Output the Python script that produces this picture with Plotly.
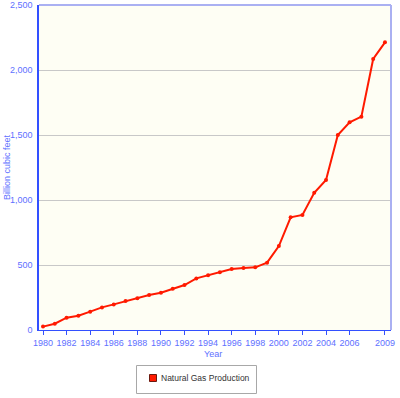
import plotly.graph_objects as go

years = list(range(1980, 2010))
production = [26, 48, 95, 110, 141, 174, 197, 223, 244, 269, 287, 318, 346, 397,
              421, 444, 469, 477, 482, 518, 646, 867, 885, 1056, 1154, 1500, 1598,
              1641, 2085, 2213]
x_ticks = [1980, 1982, 1984, 1986, 1988, 1990, 1992, 1994, 1996, 1998, 2000,
           2002, 2004, 2006, 2009]
y_ticks = [0, 500, 1000, 1500, 2000, 2500]
series_name = "Natural Gas Production"

axis_blue = "#3350FF"
label_blue = "#6070FF"
font = "Liberation Sans, Arial, sans-serif"

W, H = 400, 398
# plot area in pixels
L, R, T, B = 39, 391, 5, 330


def px(xp):
    return (xp - L) / (R - L)


def py(yp):
    return (B - yp) / (B - T)


fig = go.Figure()
fig.add_trace(go.Scatter(
    x=years, y=production, mode="lines+markers", name=series_name,
    line=dict(color="#FF1A00", width=2),
    marker=dict(color="#FF1A00", size=4),
    showlegend=False, hoverinfo="x+y"))

fig.update_layout(
    width=W, height=H,
    margin=dict(l=L, r=W - R, t=T, b=H - B, autoexpand=False),
    paper_bgcolor="white", plot_bgcolor="#FEFEF4",
    font=dict(family=font, size=9, color=label_blue),
    showlegend=False,
    xaxis=dict(range=[1979.66, 2009.51], tickvals=x_ticks,
               ticktext=[str(t) for t in x_ticks], tickangle=0,
               automargin=False,
               showgrid=False, zeroline=False,
               showline=True, linecolor=axis_blue, linewidth=1,
               ticks="outside", ticklen=4, tickcolor=axis_blue,
               tickfont=dict(color=label_blue, size=9)),
    yaxis=dict(range=[0, 2500], tickvals=y_ticks, tickformat=",",
               automargin=False,
               showgrid=True, gridcolor="#C8C8C8", gridwidth=1,
               zeroline=False,
               showline=True, linecolor=axis_blue, linewidth=1.5,
               ticks="outside", ticklen=3, tickcolor="rgba(0,0,0,0)",
               tickfont=dict(color=label_blue, size=9)),
)

fig.add_annotation(text="Year", xref="paper", yref="paper", x=px(213), y=py(354),
                   xanchor="center", yanchor="middle", showarrow=False,
                   font=dict(color=label_blue, size=9, family=font))
fig.add_annotation(text="Billion cubic feet", xref="paper", yref="paper",
                   x=px(6.5), y=0.5, xanchor="center", yanchor="middle",
                   textangle=-90, showarrow=False,
                   font=dict(color=label_blue, size=9, family=font))

# top / right frame
fig.add_shape(type="line", xref="paper", yref="paper", x0=0, x1=1, y0=1, y1=1,
              line=dict(color="#AAB0F2", width=2))
fig.add_shape(type="line", xref="paper", yref="paper", x0=1, x1=1, y0=0, y1=1,
              line=dict(color="#AAB0F2", width=2))

# legend box
fig.add_shape(type="rect", xref="paper", yref="paper",
              x0=px(136.5), x1=px(256.5), y0=py(393.5), y1=py(365.5),
              line=dict(color="#A8A8A8", width=1), fillcolor="white", layer="above")
fig.add_shape(type="rect", xref="paper", yref="paper",
              x0=px(149.5), x1=px(156.5), y0=py(381.5), y1=py(374.5),
              line=dict(color="#6A1A10", width=1), fillcolor="#FF1A00", layer="above")
fig.add_annotation(text=series_name, xref="paper", yref="paper",
                   x=px(159), y=py(378), xanchor="left", yanchor="middle",
                   showarrow=False,
                   font=dict(color="#333333", size=8.5, family=font))

fig.write_html("out.html", config={"displayModeBar": False},
               post_script="document.body.style.margin='0';"
                           "document.body.style.overflow='hidden';")
